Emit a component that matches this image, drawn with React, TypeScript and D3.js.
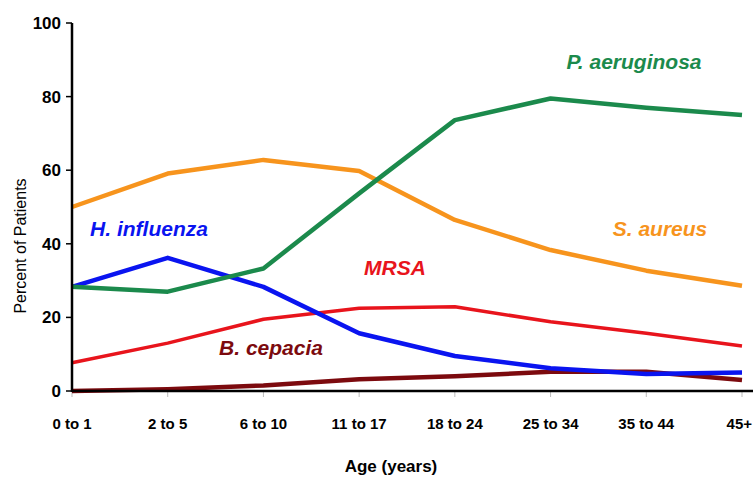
import { scaleLinear, scalePoint, line } from "d3";

const ageGroups = ["0 to 1", "2 to 5", "6 to 10", "11 to 17", "18 to 24", "25 to 34", "35 to 44", "45+"];
const yTicks = [0, 20, 40, 60, 80, 100];

const pAeruginosa = [28.3, 27, 33.3, 53.7, 73.6, 79.5, 77, 75];
const sAureus = [50, 59.1, 62.8, 59.8, 46.5, 38.3, 32.7, 28.6];
const hInfluenza = [28.3, 36.2, 28.3, 15.7, 9.5, 6.2, 4.6, 5];
const mrsa = [7.7, 13, 19.5, 22.5, 22.9, 18.8, 15.7, 12.2];
const bCepacia = [0, 0.5, 1.5, 3.2, 4, 5.2, 5.2, 3];

const series = [
  { name: "MRSA", values: mrsa, color: "#e8141c", width: 3.5 },
  { name: "B. cepacia", values: bCepacia, color: "#7c0a0e", width: 4.5 },
  { name: "H. influenza", values: hInfluenza, color: "#0a14f0", width: 4.5 },
  { name: "S. aureus", values: sAureus, color: "#f7941d", width: 4.5 },
  { name: "P. aeruginosa", values: pAeruginosa, color: "#1b8a4c", width: 4.5 },
];

// label positions (centre x, baseline y) in pixels
const labels = [
  { text: "P. aeruginosa", color: "#1b8a4c", x: 634, y: 69 },
  { text: "S. aureus", color: "#f7941d", x: 660, y: 236 },
  { text: "MRSA", color: "#e8141c", x: 395, y: 275 },
  { text: "H. influenza", color: "#0a14f0", x: 149, y: 236 },
  { text: "B. cepacia", color: "#7c0a0e", x: 271, y: 355 },
];

const width = 753;
const height = 477;
const margin = { top: 23, right: 11, bottom: 86, left: 72 };

const font = "Liberation Sans, Arial, sans-serif";

const App = () => {
  const xScale = scalePoint()
    .domain(ageGroups)
    .range([margin.left, width - margin.right]);
  const yScale = scaleLinear()
    .domain([0, 100])
    .range([height - margin.bottom, margin.top]);

  const lineGen = line()
    .x((d, i) => xScale(ageGroups[i]))
    .y((d) => yScale(d));

  const y0 = yScale(0);
  const last = ageGroups[ageGroups.length - 1];

  return (
    <div>
      <style>{"body{margin:0}"}</style>
      <svg width={width} height={height} style={{ display: "block" }} fontFamily={font}>
        <rect width={width} height={height} fill="white" />
        {ageGroups.map((g) => (
          <line key={g} x1={xScale(g)} x2={xScale(g)} y1={y0} y2={y0 + 6} stroke="#bbb" strokeWidth={1} />
        ))}
        {yTicks.map((t) => (
          <g key={t} transform={`translate(${margin.left},${yScale(t)})`}>
            <line x1={-6} x2={0} stroke="black" strokeWidth={1.5} />
            <text x={-11} dy="0.35em" textAnchor="end" fontSize={17} fontWeight="bold">
              {t}
            </text>
          </g>
        ))}
        {series.map((s) => (
          <path
            key={s.name}
            d={lineGen(s.values)}
            fill="none"
            stroke={s.color}
            strokeWidth={s.width}
            strokeLinejoin="round"
          />
        ))}
        <line x1={margin.left} x2={margin.left} y1={yScale(100)} y2={y0 + 1} stroke="black" strokeWidth={2.5} />
        <line x1={margin.left} x2={width} y1={y0} y2={y0} stroke="black" strokeWidth={2.5} />
        {ageGroups.map((g) => (
          <text
            key={g}
            x={g === last ? width - 1 : xScale(g)}
            y={429}
            textAnchor={g === last ? "end" : "middle"}
            fontSize={15}
            fontWeight="bold"
          >
            {g}
          </text>
        ))}
        {labels.map((l) => (
          <text
            key={l.text}
            x={l.x}
            y={l.y}
            textAnchor="middle"
            fontSize={21}
            fontWeight="bold"
            fontStyle="italic"
            fill={l.color}
          >
            {l.text}
          </text>
        ))}
        <text x={391} y={472} textAnchor="middle" fontSize={17} fontWeight="bold">
          Age (years)
        </text>
        <text
          transform={`translate(26,246) rotate(-90)`}
          textAnchor="middle"
          fontSize={16}
        >
          Percent of Patients
        </text>
      </svg>
    </div>
  );
};

export default App;
